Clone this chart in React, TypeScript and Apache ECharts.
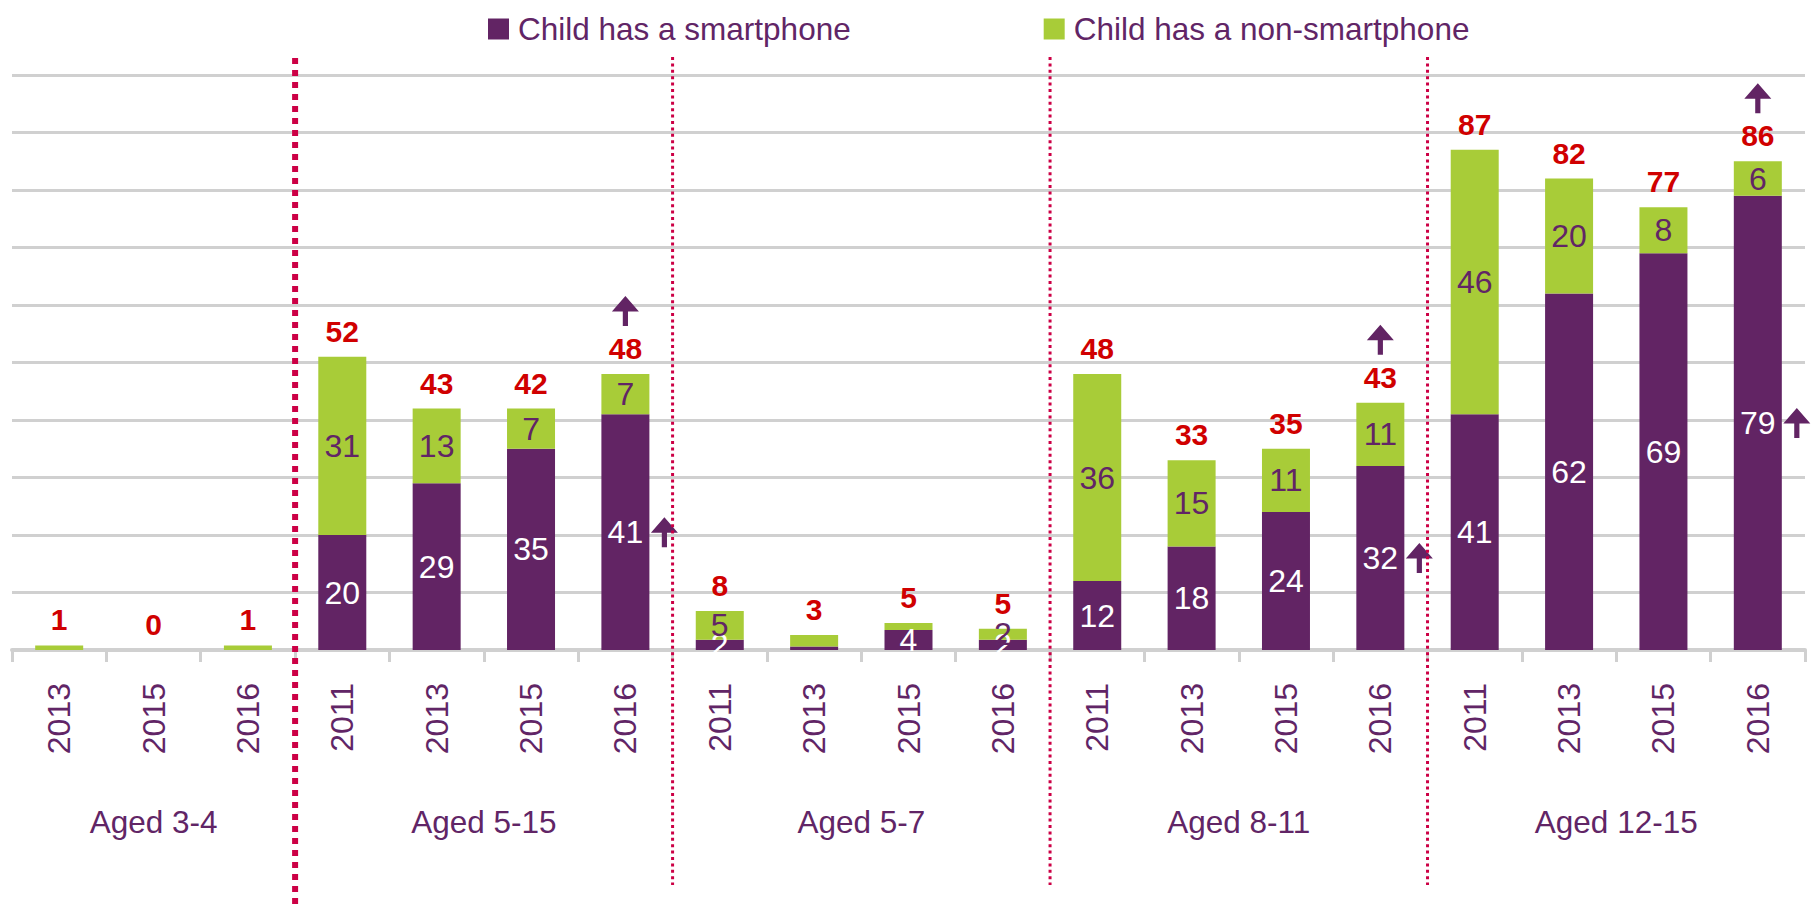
import React, { useEffect, useRef } from "react";
import * as echarts from "echarts";

const categories = ["2013", "2015", "2016", "2011", "2013", "2015", "2016", "2011", "2013", "2015", "2016", "2011", "2013", "2015", "2016", "2011", "2013", "2015", "2016"];
const groups = ["Aged 3-4", "Aged 5-15", "Aged 5-7", "Aged 8-11", "Aged 12-15"];
const groupSizes = [3, 4, 4, 4, 4];

const smartphone = [0, 0, 0, 20, 29, 35, 41, 1.8, 0.6, 3.5, 1.8, 12, 18, 24, 32, 41, 62, 69, 79];
const nonSmartphone = [0.8, 0, 0.8, 31, 13, 7, 7, 5, 2, 1.2, 1.9, 36, 15, 11, 11, 46, 20, 8, 6];
const totals = [1, 0, 1, 52, 43, 42, 48, 8, 3, 5, 5, 48, 33, 35, 43, 87, 82, 77, 86];
const smartLabels = ["", "", "", "20", "29", "35", "41", "2", "", "4", "2", "12", "18", "24", "32", "41", "62", "69", "79"];
const nonLabels = ["", "", "", "31", "13", "7", "7", "5", "", "", "2", "36", "15", "11", "11", "46", "20", "8", "6"];
const sigIndices = [6, 14, 18];

const PURPLE = "#622464";
const GREEN = "#A8CC38";
const RED = "#D00000";
const TEXT = "#612566";
const SEP = "#CC0045";
const GRID = "#D0D0D0";
const FONT = "Liberation Sans, Arial, sans-serif";
const ARROW = "path://M13,0L26,15L15.5,15L15.5,29L10.5,29L10.5,15L0,15Z";

export default function App() {
  const ref = useRef<HTMLDivElement>(null);
  useEffect(() => {
    if (!ref.current) return;
    const chart = echarts.init(ref.current, null, { renderer: "svg" });

    const starts: number[] = [];
    let acc = 0;
    groupSizes.forEach((s) => {
      starts.push(acc);
      acc += s;
    });
    const groupCenters = groupSizes.map((s, i) => starts[i] + s / 2);
    const boundaries = starts.slice(1);
    const stackTop = smartphone.map((v, i) => v + nonSmartphone[i]);

    chart.setOption({
      animation: false,
      backgroundColor: "#ffffff",
      legend: {
        data: ["Child has a smartphone", "Child has a non-smartphone"],
        left: 483,
        top: 8,
        icon: "rect",
        itemWidth: 21,
        itemHeight: 21,
        itemGap: 193,
        textStyle: { fontSize: 31.5, color: TEXT, fontFamily: FONT, padding: [0, 0, 0, 4] },
      },
      grid: { left: 12, right: 14, top: 75, bottom: 260, outerBoundsMode: "none", containLabel: false },
      xAxis: [
        {
          type: "category",
          data: categories,
          axisLine: { lineStyle: { color: GRID, width: 4 } },
          axisTick: { show: true, length: 12, lineStyle: { color: GRID, width: 3 } },
          axisLabel: { rotate: 90, margin: 33, fontSize: 32, color: TEXT, fontFamily: FONT, interval: 0 },
          splitLine: { show: false },
        },
        {
          type: "value",
          min: 0,
          max: categories.length,
          position: "bottom",
          axisLine: { show: false },
          axisTick: { show: false },
          splitLine: { show: false },
          axisLabel: {
            customValues: groupCenters,
            formatter: (v: number) => {
              const k = groupCenters.indexOf(v);
              return k >= 0 ? groups[k] : "";
            },
            margin: 156,
            fontSize: 31.5,
            color: TEXT,
            fontFamily: FONT,
          },
        },
      ],
      yAxis: {
        type: "value",
        min: 0,
        max: 100,
        interval: 10,
        axisLabel: { show: false },
        axisLine: { show: false },
        axisTick: { show: false },
        splitLine: { lineStyle: { color: GRID, width: 3 } },
      },
      series: [
        {
          name: "Child has a smartphone",
          type: "bar",
          stack: "a",
          barWidth: 48,
          itemStyle: { color: PURPLE },
          data: smartphone,
          label: {
            show: true,
            position: "inside",
            color: "#ffffff",
            fontSize: 32,
            fontFamily: FONT,
            formatter: (p: any) => smartLabels[p.dataIndex],
          },
        },
        {
          name: "Child has a non-smartphone",
          type: "bar",
          stack: "a",
          barWidth: 48,
          itemStyle: { color: GREEN },
          data: nonSmartphone,
          label: {
            show: true,
            position: "inside",
            color: TEXT,
            fontSize: 32,
            fontFamily: FONT,
            formatter: (p: any) => nonLabels[p.dataIndex],
          },
        },
        {
          name: "total",
          type: "scatter",
          symbolSize: 1,
          itemStyle: { color: "rgba(0,0,0,0)", opacity: 1 },
          data: stackTop.map((v, i) => [i, v]),
          label: {
            show: true,
            position: "top",
            distance: 10,
            color: RED,
            opacity: 1,
            fontSize: 30,
            fontWeight: "bold",
            fontFamily: FONT,
            formatter: (p: any) => String(totals[p.dataIndex]),
          },
          z: 5,
        },
        {
          name: "sigTop",
          type: "scatter",
          symbol: ARROW,
          symbolSize: [27, 30],
          symbolOffset: [0, -63],
          itemStyle: { color: PURPLE, opacity: 1 },
          data: sigIndices.map((i) => [i, stackTop[i]]),
          z: 6,
        },
        {
          name: "sigSide",
          type: "scatter",
          symbol: ARROW,
          symbolSize: [27, 30],
          symbolOffset: [39, 0],
          itemStyle: { color: PURPLE, opacity: 1 },
          data: sigIndices.map((i) => [i, smartphone[i] / 2]),
          z: 6,
        },
      ],
    });

    const lines = boundaries.map((b, k) => {
      const x = chart.convertToPixel({ xAxisIndex: 1 }, b) as number;
      const thick = k === 0;
      return {
        type: "line",
        z: 20,
        shape: { x1: x, y1: thick ? 58 : 57, x2: x, y2: thick ? 910 : 885 },
        style: {
          stroke: SEP,
          lineWidth: thick ? 6 : 3,
          lineDash: thick ? [6, 6] : [3, 3.4],
        },
        silent: true,
      };
    });
    chart.setOption({ graphic: lines });

    return () => chart.dispose();
  }, []);

  return <div ref={ref} style={{ position: "fixed", left: 0, top: 0, width: 1819, height: 910 }} />;
}
